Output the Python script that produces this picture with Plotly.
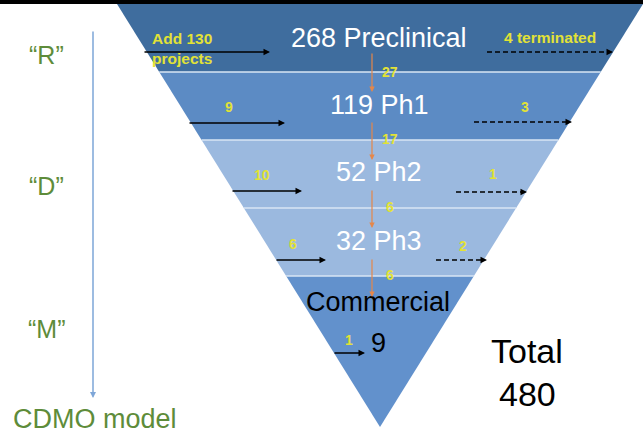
import plotly.graph_objects as go

# Pipeline data
stages = ["Preclinical", "Ph1", "Ph2", "Ph3", "Commercial"]
counts = [268, 119, 52, 32, 9]
added = [130, 9, 10, 6, 1]          # new projects entering each stage
terminated = [4, 3, 1, 2]           # projects dropped per stage
advanced = [27, 17, 6, 6]           # projects moving to the next stage
phase_letters = ["“R”", "“D”", "“M”"]
total = sum(counts)

W, H = 643, 437
FONT = "Liberation Sans, Arial, sans-serif"
YELLOW = "#e2e236"
ORANGE = "#e5874a"
GREEN = "#5e8c3a"
band_colors = ["#3f6d9e", "#5c8bc4", "#9bb9df", "#9bb9df", "#6291cc"]

# Funnel geometry (pixel space of the plot area)
top_y, apex_y, cx, half_top = 4, 427, 380, 263
band_edges = [top_y, 72, 140, 208, 276, apex_y]


def half_width(y):
    return half_top * (apex_y - y) / (apex_y - top_y)


fig = go.Figure()

for i, col in enumerate(band_colors):
    y0, y1 = band_edges[i], band_edges[i + 1]
    xs = [cx - half_width(y0), cx + half_width(y0), cx + half_width(y1), cx - half_width(y1)]
    ys = [y0, y0, y1, y1]
    fig.add_trace(go.Scatter(x=xs + [xs[0]], y=ys + [ys[0]], fill="toself",
                             fillcolor=col, mode="lines", line=dict(width=0),
                             hoverinfo="skip", showlegend=False))

shapes = [dict(type="rect", x0=0, x1=W, y0=0, y1=top_y, fillcolor="black",
               line=dict(width=0), layer="below")]
for y in band_edges[1:-1]:
    shapes.append(dict(type="line", x0=cx - half_width(y), x1=cx + half_width(y),
                       y0=y, y1=y, line=dict(color="#d8e6f5", width=1.5)))

annotations = []


def text(x, y, s, size, color, bold=False, xanchor="center", align="center"):
    annotations.append(dict(x=x, y=y, text=f"<b>{s}</b>" if bold else s,
                            showarrow=False, xanchor=xanchor, yanchor="middle",
                            align=align, font=dict(family=FONT, size=size, color=color)))


def arrow(x0, y0, x1, y1, color, width=1.3, head=2, size=1.0):
    annotations.append(dict(x=x1, y=y1, ax=x0, ay=y0, xref="x", yref="y",
                            axref="x", ayref="y", text="", showarrow=True,
                            arrowhead=head, arrowsize=size, arrowwidth=width,
                            arrowcolor=color))


# Stage labels
label_y = [38, 105, 172, 241, 302]
for i, (st, n) in enumerate(zip(stages, counts)):
    if i < len(stages) - 1:
        text(379, label_y[i], f"{n} {st}", 27, "white")
    else:
        text(378, label_y[i], st, 27, "black")
        text(378, 343, str(n), 27, "black")

# Incoming projects (solid arrows)
in_y = [52, 123, 191, 260, 353]
in_x = [(143, 270), (188, 285), (231, 302), (275, 326), (333, 365)]
in_lbl = [None, (229, 107), (262, 175), (293, 244), (349, 340)]
for i, a in enumerate(added):
    arrow(in_x[i][0], in_y[i], in_x[i][1], in_y[i], "black", width=1.3)
    if i == 0:
        text(150, 48, f"Add {a}<br>projects", 15.5, YELLOW, bold=True,
             xanchor="left", align="left")
    else:
        text(in_lbl[i][0], in_lbl[i][1], str(a), 14, YELLOW, bold=True)

# Terminated projects (dashed arrows)
out_y = [52, 122, 192, 260]
out_x = [(487, 613), (474, 572), (456, 527), (436, 487)]
out_lbl = [(550, 37), (525, 107), (493, 174), (463, 246)]
for i, t in enumerate(terminated):
    x0, x1 = out_x[i]
    shapes.append(dict(type="line", x0=x0, x1=x1 - 4, y0=out_y[i], y1=out_y[i],
                       line=dict(color="black", width=1.3, dash="5px,3px")))
    arrow(x1 - 5, out_y[i], x1, out_y[i], "black", width=1.3)
    s = f"{t} terminated" if i == 0 else str(t)
    text(out_lbl[i][0], out_lbl[i][1], s, 15.5 if i == 0 else 14, YELLOW, bold=True)

# Advancement between stages (orange arrows)
adv_span = [(52, 92), (121, 160), (189, 228), (258, 297)]
adv_lbl_y = [72, 139, 207, 275]
for i, a in enumerate(advanced):
    arrow(372, adv_span[i][0], 372, adv_span[i][1], ORANGE, width=1.2, head=2, size=0.9)
    text(390, adv_lbl_y[i], str(a), 14, YELLOW, bold=True)

# Phase axis on the left
arrow(93, 30, 93, 398, "#7ea6d8", width=1.5, head=2, size=0.8)
for s, y in zip(phase_letters, [55, 186, 329]):
    text(46, y, s, 25, GREEN)
text(95, 419, "CDMO model", 27, GREEN)

# Total
text(527, 351, "Total", 34, "black")
text(527, 394, str(total), 34, "black")

fig.update_layout(
    width=W, height=H, margin=dict(l=0, r=0, t=0, b=0),
    paper_bgcolor="white", plot_bgcolor="white",
    xaxis=dict(range=[0, W], visible=False, fixedrange=True),
    yaxis=dict(range=[H, 0], visible=False, fixedrange=True),
    shapes=shapes, annotations=annotations, showlegend=False,
)
fig.write_html("out.html", config={"displayModeBar": False})
